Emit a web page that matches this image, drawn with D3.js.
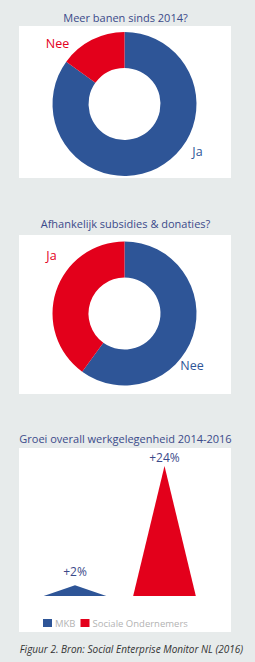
<!DOCTYPE html>
<html>
<head>
<meta charset="utf-8">
<script src="https://cdn.jsdelivr.net/npm/d3@7"></script>
<style>
  body { margin: 0; background: #e7ebeb; }
  svg { display: block; font-family: 'Open Sans', sans-serif; }
</style>
</head>
<body>
<svg></svg>
<script>
'use strict'

const banenLabels = ['Ja', 'Nee']
const banenValues = [85, 15]

const subsidieLabels = ['Nee', 'Ja']
const subsidieValues = [60, 40]

const groeiCategories = ['MKB', 'Sociale Ondernemers']
const groeiValues = [2, 24]
const groeiLabels = ['+2%', '+24%']

const blue = '#2e5597',
  red = '#e3001b',
  titleColor = '#3b4a8a'

const width = 255,
  height = 662

const svg = d3.select('svg')
  .attr('width', width)
  .attr('height', height)

// white panels
const panels = [
  { y: 26, h: 152 },
  { y: 235, h: 159 },
  { y: 448, h: 184 }
]
svg.selectAll('rect.panel')
  .data(panels)
  .enter()
  .append('rect')
  .attr('class', 'panel')
  .attr('x', 19)
  .attr('width', 212)
  .attr('y', d => d.y)
  .attr('height', d => d.h)
  .attr('fill', '#fff')

function title(text, y) {
  svg.append('text')
    .attr('x', 125.5)
    .attr('y', y)
    .attr('text-anchor', 'middle')
    .attr('font-size', 11)
    .attr('fill', titleColor)
    .text(text)
}

title('Meer banen sinds 2014?', 21.5)
title('Afhankelijk subsidies & donaties?', 228)
title('Groei overall werkgelegenheid 2014-2016', 443)

const pie = d3.pie().sort(null)
const arc = d3.arc().innerRadius(36).outerRadius(72)

function donut(values, labels, colors, cx, cy, labelPos) {
  const g = svg.append('g').attr('transform', 'translate(' + cx + ',' + cy + ')')
  g.selectAll('path')
    .data(pie(values))
    .enter()
    .append('path')
    .attr('d', arc)
    .attr('fill', (d, i) => colors[i])
  g.selectAll('text')
    .data(labels)
    .enter()
    .append('text')
    .attr('x', (d, i) => labelPos[i][0])
    .attr('y', (d, i) => labelPos[i][1])
    .attr('text-anchor', 'middle')
    .attr('font-size', 12.5)
    .attr('fill', (d, i) => colors[i])
    .text(d => d)
}

donut(banenValues, banenLabels, [blue, red], 124.5, 104, [[73, 52], [-67, -56]])
donut(subsidieValues, subsidieLabels, [blue, red], 124.5, 313.5, [[67.5, 56], [-73, -54]])

// triangles
const x = d3.scaleBand()
  .domain(groeiCategories)
  .range([30.25, 209.25])
  .paddingInner(0.3)
  .paddingOuter(0.15)

const y = d3.scaleLinear()
  .domain([0, 24])
  .range([596, 466])

const labelGap = [9.5, 4]

const bars = groeiCategories.map((c, i) => ({ cat: c, value: groeiValues[i], label: groeiLabels[i], gap: labelGap[i] }))

svg.selectAll('path.tri')
  .data(bars)
  .enter()
  .append('path')
  .attr('class', 'tri')
  .attr('d', d => {
    const x0 = x(d.cat),
      x1 = x(d.cat) + x.bandwidth(),
      xm = x(d.cat) + x.bandwidth() / 2
    return 'M' + x0 + ',' + y(0) + 'L' + xm + ',' + y(d.value) + 'L' + x1 + ',' + y(0) + 'Z'
  })
  .attr('fill', (d, i) => [blue, red][i])

svg.selectAll('text.val')
  .data(bars)
  .enter()
  .append('text')
  .attr('class', 'val')
  .attr('x', d => x(d.cat) + x.bandwidth() / 2)
  .attr('y', d => y(d.value) - d.gap)
  .attr('text-anchor', 'middle')
  .attr('font-size', 12)
  .attr('fill', titleColor)
  .text(d => d.label)

// legend
const legendX = [43, 80.5]
const legend = svg.selectAll('g.legend')
  .data(groeiCategories)
  .enter()
  .append('g')
  .attr('class', 'legend')
  .attr('transform', (d, i) => 'translate(' + legendX[i] + ',619)')
legend.append('rect')
  .attr('width', 9)
  .attr('height', 8)
  .attr('fill', (d, i) => [blue, red][i])
legend.append('text')
  .attr('x', 12)
  .attr('y', 7.5)
  .attr('font-size', 9.5)
  .attr('fill', '#b3b3b3')
  .text(d => d)

svg.append('text')
  .attr('x', 131.5)
  .attr('y', 652.5)
  .attr('text-anchor', 'middle')
  .attr('font-size', 10)
  .attr('font-style', 'italic')
  .attr('fill', '#333')
  .text('Figuur 2. Bron: Social Enterprise Monitor NL (2016)')
</script>
</body>
</html>
